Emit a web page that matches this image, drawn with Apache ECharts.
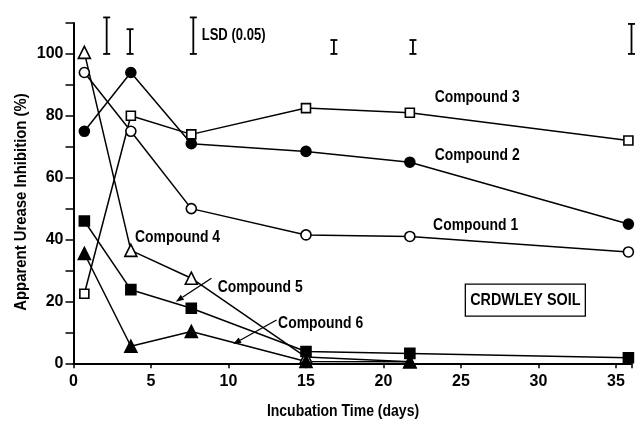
<!DOCTYPE html>
<html>
<head>
<meta charset="utf-8">
<script src="https://cdn.jsdelivr.net/npm/echarts@6/dist/echarts.min.js"></script>
<style>html,body{margin:0;padding:0;background:#fff;}#c{width:635px;height:422px;}</style>
</head>
<body>
<div id="c"></div>
<script>
// ---- data ----
var days = [0.7, 3.7, 7.6, 15, 21.7, 35.8];
var compound1 = [94, 75, 50, 41.5, 41, 36];
var compound2 = [75, 94, 71, 68.5, 65, 45];
var compound3 = [22.5, 80, 74, 82.5, 81, 72];
var compound4 = [100.5, 36.5, 27.5, 2, 0.5];
var compound5 = [46, 23.8, 17.8, 3.8, 3.2, 1.8];
var compound6 = [35.5, 5.5, 10.3, 0.6, 0.5];
var seriesNames = ['Compound 1', 'Compound 2', 'Compound 3', 'Compound 4', 'Compound 5', 'Compound 6'];
// LSD (0.05) bars: [day, low, high]
var lsdBars = [[2.14, 100, 111.8], [3.65, 100, 108], [7.73, 100, 111.8], [16.8, 100, 104.5], [21.9, 100, 104.5], [36.0, 100, 109.7]];
// text labels: [day, value, text]
var labels = [
  [23.3, 86, 'Compound 3'],
  [23.3, 67.2, 'Compound 2'],
  [23.2, 44.6, 'Compound 1'],
  [3.97, 40.6, 'Compound 4'],
  [9.3, 24.7, 'Compound 5'],
  [13.2, 12.9, 'Compound 6'],
  [8.27, 105.9, 'LSD (0.05)']
];
// arrows: [fromDay, fromVal, toDay, toVal]
var arrows = [[8.9, 27.5, 6.6, 19.9], [13.1, 14.0, 10.3, 6.2]];
// boxed note: [centerDay, centerVal, text]
var boxNote = [[29.15, 20.4, 'CRDWLEY SOIL']];
var xTicks = [0, 5, 10, 15, 20, 25, 30, 35];
var yTickLabels = [0, 20, 40, 60, 80, 100];
var xName = 'Incubation Time (days)';
var yName = 'Apparent Urease Inhibition (%)';

var FONT = '"Liberation Sans", Arial, sans-serif';

function pts(arr) { return arr.map(function (v, i) { return [days[i], v]; }); }

function lineSeries(name, arr, symbol, size, filled) {
  return {
    name: name, type: 'line', data: pts(arr), symbol: symbol, symbolSize: size,
    lineStyle: { color: '#000', width: 1.5 },
    itemStyle: { color: filled ? '#000' : '#fff', borderColor: '#000', borderWidth: 1.6 },
    showAllSymbol: true, clip: false, z: 3
  };
}

var chart = echarts.init(document.getElementById('c'), null, { renderer: 'canvas' });
chart.setOption({
  animation: false,
  backgroundColor: '#fff',
  grid: { left: 73.5, right: 3.5, top: 23, bottom: 58.7 },
  graphic: [
    { type: 'text', x: 343, y: 411, scaleX: 0.875, scaleY: 1.08, style: { text: xName, fill: '#000', fontFamily: FONT, fontWeight: 'bold', fontSize: 16, textAlign: 'center', textVerticalAlign: 'middle' } },
    { type: 'text', x: 21, y: 202, rotation: Math.PI / 2, scaleX: 0.93, scaleY: 1.08, style: { text: yName, fill: '#000', fontFamily: FONT, fontWeight: 'bold', fontSize: 16, textAlign: 'center', textVerticalAlign: 'middle' } }
  ],
  xAxis: {
    type: 'value', min: 0, max: 36, interval: 5,
    axisLine: { lineStyle: { color: '#000', width: 2 } },
    axisTick: { show: true, length: 5, lineStyle: { color: '#000', width: 1.5 } },
    axisLabel: {
      fontFamily: FONT, fontWeight: 'bold', fontSize: 16, color: '#000', margin: 10,
      formatter: function (v) { return xTicks.indexOf(v) >= 0 ? String(v) : ''; }
    },
    splitLine: { show: false }
  },
  yAxis: {
    type: 'value', min: 0, max: 110, interval: 10,
    axisLine: { show: true, lineStyle: { color: '#000', width: 2 } },
    axisTick: { show: true, length: 8, lineStyle: { color: '#000', width: 1.5 } },
    axisLabel: {
      fontFamily: FONT, fontWeight: 'bold', fontSize: 16, color: '#000', margin: 10,
      formatter: function (v) { return yTickLabels.indexOf(v) >= 0 ? String(v) : ''; }
    },
    splitLine: { show: false }
  },
  series: [
    lineSeries(seriesNames[0], compound1, 'circle', 10, false),
    lineSeries(seriesNames[1], compound2, 'circle', 10, true),
    lineSeries(seriesNames[2], compound3, 'rect', 9, false),
    lineSeries(seriesNames[3], compound4, 'triangle', 12, false),
    lineSeries(seriesNames[4], compound5, 'rect', 10, true),
    lineSeries(seriesNames[5], compound6, 'triangle', 12, true),
    {
      type: 'custom', name: 'LSD', data: lsdBars, clip: false, z: 4,
      renderItem: function (params, api) {
        var lo = api.coord([api.value(0), api.value(1)]);
        var hi = api.coord([api.value(0), api.value(2)]);
        var w = 3.5;
        var st = { stroke: '#000', lineWidth: 1.8 };
        return { type: 'group', children: [
          { type: 'line', shape: { x1: lo[0], y1: lo[1], x2: hi[0], y2: hi[1] }, style: st },
          { type: 'line', shape: { x1: lo[0] - w, y1: lo[1], x2: lo[0] + w, y2: lo[1] }, style: st },
          { type: 'line', shape: { x1: hi[0] - w, y1: hi[1], x2: hi[0] + w, y2: hi[1] }, style: st }
        ] };
      }
    },
    {
      type: 'custom', name: 'labels', data: labels, clip: false, z: 5,
      renderItem: function (params, api) {
        var p = api.coord([api.value(0), api.value(1)]);
        return { type: 'text', x: p[0], y: p[1], scaleX: 0.87, scaleY: 1.08, style: {
          text: labels[params.dataIndex][2], fill: '#000', fontFamily: FONT,
          fontWeight: 'bold', fontSize: params.dataIndex === 6 ? 15 : 16, textAlign: 'left', textVerticalAlign: 'middle'
        } };
      }
    },
    {
      type: 'custom', name: 'arrows', data: arrows, clip: false, z: 5,
      renderItem: function (params, api) {
        var a = api.coord([api.value(0), api.value(1)]);
        var b = api.coord([api.value(2), api.value(3)]);
        var ang = Math.atan2(b[1] - a[1], b[0] - a[0]);
        var L = 8, W = 3;
        var bx = b[0] - L * Math.cos(ang), by = b[1] - L * Math.sin(ang);
        var nx = -Math.sin(ang) * W, ny = Math.cos(ang) * W;
        return { type: 'group', children: [
          { type: 'line', shape: { x1: a[0], y1: a[1], x2: bx, y2: by }, style: { stroke: '#000', lineWidth: 1.3 } },
          { type: 'polygon', shape: { points: [[b[0], b[1]], [bx + nx, by + ny], [bx - nx, by - ny]] }, style: { fill: '#000' } }
        ] };
      }
    },
    {
      type: 'custom', name: 'box', data: boxNote, clip: false, z: 5,
      renderItem: function (params, api) {
        var p = api.coord([api.value(0), api.value(1)]);
        return { type: 'group', children: [
          { type: 'rect', shape: { x: p[0] - 60, y: p[1] - 16, width: 120, height: 32 }, style: { fill: '#fff', stroke: '#000', lineWidth: 1.3 } },
          { type: 'text', x: p[0], y: p[1], scaleX: 0.9, scaleY: 1.08, style: { text: boxNote[params.dataIndex][2], fill: '#000', fontFamily: FONT, fontWeight: 'bold', fontSize: 16, textAlign: 'center', textVerticalAlign: 'middle' } }
        ] };
      }
    }
  ]
});
</script>
</body>
</html>
